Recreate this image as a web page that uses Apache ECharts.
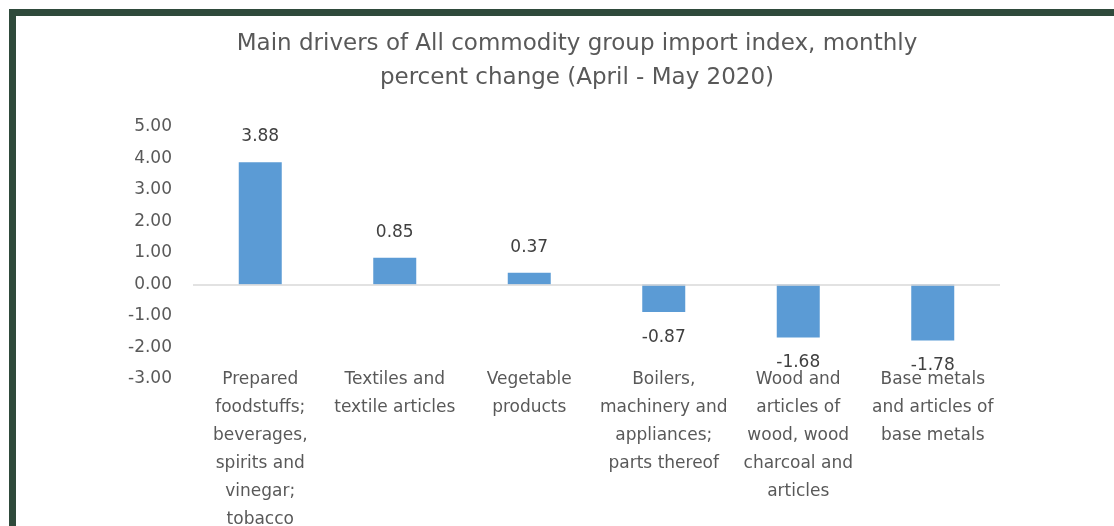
<!DOCTYPE html>
<html>
<head>
<meta charset="utf-8">
<script src="https://cdn.jsdelivr.net/npm/echarts@6/dist/echarts.min.js"></script>
<style>
  html, body { margin: 0; padding: 0; background: #fff; }
  #chart { width: 1114px; height: 526px; }
</style>
</head>
<body>
<div id="chart"></div>
<script>
// 类目（按原图换行）
var categories = [
  'Prepared\nfoodstuffs;\nbeverages,\nspirits and\nvinegar;\ntobacco',
  'Textiles and\ntextile articles',
  'Vegetable\nproducts',
  'Boilers,\nmachinery and\nappliances;\nparts thereof',
  'Wood and\narticles of\nwood, wood\ncharcoal and\narticles',
  'Base metals\nand articles of\nbase metals'
]
// 月度变化百分比
var changeValues = [3.88, 0.85, 0.37, -0.87, -1.68, -1.78]
// y轴刻度范围
var yMin = -3
var yMax = 5
var yStep = 1

var chart = echarts.init(document.getElementById('chart'))
var font = 'DejaVu Sans'

var option = {
  animation: false,
  title: {
    text: 'Main drivers of All commodity group import index, monthly\npercent change (April - May 2020)',
    left: 572,
    top: 22,
    textAlign: 'center',
    textStyle: {
      fontFamily: font,
      fontSize: 23,
      fontWeight: 'normal',
      color: '#595959',
      lineHeight: 34
    }
  },
  // 深绿色边框
  graphic: [
    { type: 'rect', shape: { x: 9, y: 9, width: 1105, height: 7 }, style: { fill: '#2f4a3b' } },
    { type: 'rect', shape: { x: 9, y: 9, width: 7, height: 517 }, style: { fill: '#2f4a3b' } }
  ],
  grid: {
    left: 193,
    right: 114,
    top: 127,
    bottom: 147,
    outerBoundsMode: 'none'
  },
  xAxis: {
    type: 'category',
    data: categories,
    axisLine: { show: false, onZero: false },
    axisTick: { show: false },
    axisLabel: {
      interval: 0,
      margin: -13,
      fontFamily: font,
      fontSize: 17,
      lineHeight: 28,
      color: '#595959',
      verticalAlign: 'top'
    }
  },
  yAxis: {
    type: 'value',
    min: yMin,
    max: yMax,
    interval: yStep,
    axisLine: { show: false },
    axisTick: { show: false },
    splitLine: { show: false },
    axisLabel: {
      margin: 21,
      fontFamily: font,
      fontSize: 17,
      color: '#595959',
      formatter: function (v) { return v.toFixed(2) }
    }
  },
  series: [
    {
      type: 'bar',
      data: changeValues,
      barWidth: 43,
      itemStyle: { color: '#5b9bd5' },
      label: {
        show: true,
        position: 'outside',
        distance: 17,
        fontFamily: font,
        fontSize: 17,
        color: '#404040',
        formatter: function (p) { return p.value.toFixed(2) }
      },
      markLine: {
        silent: true,
        symbol: 'none',
        label: { show: false },
        lineStyle: { color: '#d9d9d9', width: 1.5, type: 'solid' },
        data: [{ yAxis: 0 }]
      }
    }
  ]
}

chart.setOption(option)
</script>
</body>
</html>
